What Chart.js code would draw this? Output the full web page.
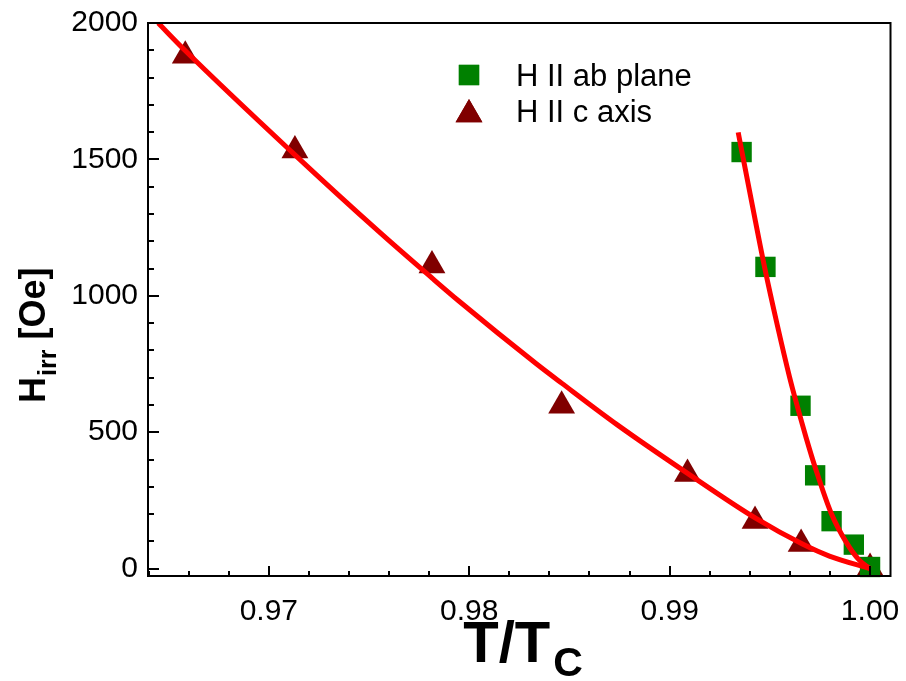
<!DOCTYPE html>
<html>
<head>
<meta charset="utf-8">
<script src="https://cdn.jsdelivr.net/npm/chart.js@4.4.0/dist/chart.umd.min.js"></script>
<style>
  html, body { margin: 0; padding: 0; background: #ffffff; }
  #wrap { width: 906px; height: 681px; position: relative; }
</style>
</head>
<body>
<div id="wrap"><canvas id="chart"></canvas></div>
<script>
// Measured irreversibility field vs reduced temperature
const seriesNames = ['H II ab plane', 'H II c axis'];

const abPlaneT = [0.99359, 0.99478, 0.99653, 0.99726, 0.99808, 0.99919, 1.0000];
const abPlaneH = [1527, 1106, 597, 342, 174, 88, 6];

const cAxisT = [0.96583, 0.97130, 0.97814, 0.98461, 0.99089, 0.99426, 0.99656, 1.0000];
const cAxisH = [1880, 1533, 1111, 597, 347, 175, 90, 2];

// Fitted curves
const abFitT = [0.99342, 0.99413, 0.99475, 0.99537, 0.99598, 0.99631, 0.99681, 0.99731, 0.99805, 0.99880, 0.99945, 1.0000];
const abFitH = [1599, 1330, 1100, 893, 703, 611, 480, 360, 205, 98, 32, 0];

const cFitT = [0.96448, 0.96581, 0.97118, 0.97548, 0.97816, 0.97945, 0.98333, 0.98461, 0.98739, 0.99086, 0.99433, 0.99665, 0.99797, 1.0000];
const cFitH = [2000, 1900, 1525, 1236, 1064, 983, 752, 680, 527, 351, 183, 89, 46, 0];

// Axis ticks and ranges
const xTicks = [0.97, 0.98, 0.99, 1.00];
const yTicks = [0, 500, 1000, 1500, 2000];
const xRange = [0.96397, 1.00102];
const yRange = [-27, 2000];
const xMinorStep = 0.002;
const yMinorStep = 100;

const pts = (xs, ys) => xs.map((x, i) => ({ x: x, y: ys[i] }));

const FONT = '"Liberation Sans", Arial, Helvetica, sans-serif';

// Frame, inward tick marks, axis titles and legend
const decorations = {
  id: 'decorations',
  afterDraw(chart) {
    const { ctx, chartArea: a, scales } = chart;
    const xs = scales.x, ys = scales.y;
    ctx.save();
    ctx.strokeStyle = '#000';
    ctx.lineWidth = 2;
    ctx.lineCap = 'butt';
    ctx.strokeRect(a.left, a.top, a.right - a.left, a.bottom - a.top);

    ctx.beginPath();
    for (let v = Math.ceil(xRange[0] / xMinorStep) * xMinorStep; v <= xRange[1] + 1e-9; v += xMinorStep) {
      const px = Math.round(xs.getPixelForValue(v));
      const major = xTicks.some(t => Math.abs(t - v) < 1e-6);
      ctx.moveTo(px, a.bottom);
      ctx.lineTo(px, a.bottom - (major ? 10 : 5));
    }
    for (let v = 0; v <= yRange[1] + 1e-9; v += yMinorStep) {
      const py = Math.round(ys.getPixelForValue(v));
      const major = yTicks.includes(v);
      ctx.moveTo(a.left, py);
      ctx.lineTo(a.left + (major ? 11 : 6), py);
    }
    ctx.stroke();

    // x title: T/T_C
    ctx.fillStyle = '#000';
    ctx.textBaseline = 'alphabetic';
    ctx.textAlign = 'left';
    ctx.font = 'bold 58px ' + FONT;
    const main = 'T/T';
    const mw = ctx.measureText(main).width;
    ctx.font = 'bold 41px ' + FONT;
    const sw = ctx.measureText('C').width;
    const x0 = 523 - (mw + sw + 3) / 2;
    ctx.font = 'bold 58px ' + FONT;
    ctx.fillText(main, x0, 662);
    ctx.font = 'bold 41px ' + FONT;
    ctx.fillText('C', x0 + mw + 3, 676);

    // y title: H_irr [Oe]
    ctx.save();
    ctx.translate(45, 403);
    ctx.rotate(-Math.PI / 2);
    ctx.font = 'bold 36px ' + FONT;
    ctx.fillText('H', 0, 0);
    let w = ctx.measureText('H').width;
    ctx.font = 'bold 25px ' + FONT;
    ctx.fillText('irr', w + 1, 11);
    w += ctx.measureText('irr').width + 1;
    ctx.font = 'bold 36px ' + FONT;
    ctx.fillText(' [Oe]', w, 0);
    ctx.restore();

    // legend
    const rows = [
      { ds: chart.data.datasets[2], y: 75, ty: 86 },
      { ds: chart.data.datasets[3], y: 114.5, ty: 122 }
    ];
    rows.forEach(r => {
      ctx.fillStyle = r.ds.backgroundColor;
      Chart.helpers.drawPoint(ctx, { pointStyle: r.ds.pointStyle, radius: r.ds.pointRadius, rotation: 0, borderWidth: 0 }, 469, r.y);
      ctx.fill();
      ctx.fillStyle = '#000';
      ctx.font = '31px ' + FONT;
      ctx.textAlign = 'left';
      ctx.textBaseline = 'alphabetic';
      ctx.fillText(r.ds.label, 516, r.ty);
    });
    ctx.restore();
  }
};

new Chart(document.getElementById('chart'), {
  type: 'scatter',
  data: {
    datasets: [
      {
        label: 'fit ab', data: pts(abFitT, abFitH), showLine: true,
        borderColor: '#ff0000', borderWidth: 5, pointRadius: 0,
        cubicInterpolationMode: 'monotone', order: 0
      },
      {
        label: 'fit c', data: pts(cFitT, cFitH), showLine: true,
        borderColor: '#ff0000', borderWidth: 5, pointRadius: 0,
        cubicInterpolationMode: 'monotone', order: 0
      },
      {
        label: seriesNames[0], data: pts(abPlaneT, abPlaneH),
        pointStyle: 'rect', pointRadius: 14.4, backgroundColor: '#008000',
        borderColor: '#008000', borderWidth: 0, clip: false, order: 1
      },
      {
        label: seriesNames[1], data: pts(cAxisT, cAxisH),
        pointStyle: 'triangle', pointRadius: 15.5, backgroundColor: '#800000',
        borderColor: '#800000', borderWidth: 0, clip: false, order: 1
      }
    ]
  },
  options: {
    responsive: true,
    maintainAspectRatio: false,
    animation: false,
    layout: { padding: { top: 23, right: 11, left: 0, bottom: 0 } },
    plugins: { legend: { display: false }, tooltip: { enabled: false } },
    elements: { point: { hoverRadius: 0 } },
    scales: {
      x: {
        type: 'linear', min: xRange[0], max: xRange[1],
        grid: { display: false, drawTicks: false },
        border: { display: false },
        afterFit: s => { s.height = 105; s.paddingLeft = 0; s.paddingRight = 0; },
        afterBuildTicks: s => { s.ticks = xTicks.map(v => ({ value: v })); },
        ticks: {
          padding: 18, color: '#000',
          font: { family: FONT, size: 30 },
          callback: v => v.toFixed(2)
        }
      },
      y: {
        type: 'linear', min: yRange[0], max: yRange[1],
        grid: { display: false, drawTicks: false },
        border: { display: false },
        afterFit: s => { s.width = 148; s.paddingTop = 0; s.paddingBottom = 0; },
        afterBuildTicks: s => { s.ticks = yTicks.map(v => ({ value: v })); },
        ticks: {
          padding: 10, color: '#000',
          font: { family: FONT, size: 30 },
          callback: v => String(v)
        }
      }
    }
  },
  plugins: [decorations]
});
</script>
</body>
</html>
